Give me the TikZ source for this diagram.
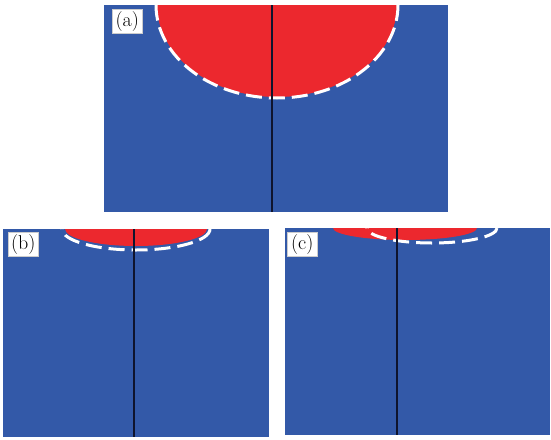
\documentclass[tikz,border=0pt]{standalone}
\usepackage{fontspec}
\definecolor{panelblue}{RGB}{51,89,168}
\definecolor{hotred}{RGB}{236,40,46}
\definecolor{divcol}{RGB}{15,20,45}
\begin{document}
\begin{tikzpicture}[x=1pt,y=-1pt,
  panel/.style={fill=panelblue},
  melt/.style={fill=hotred},
  bound/.style={draw=white,line width=3pt,dash pattern=on 16pt off 7pt},
  divline/.style={draw=divcol,line width=1.2pt},
  lbl/.style={draw=gray!40,fill=white,inner sep=0pt,minimum width=30pt,minimum height=24pt,font=\fontsize{20}{20}\selectfont,anchor=north west}]
\useasboundingbox (0,0) rectangle (551,439);
% ---------- panel (a)
\fill[panel] (104,5) rectangle (448,212);
\begin{scope}
  \clip (104,5) rectangle (448,212);
  \fill[melt] (277,5) ellipse [x radius=120, y radius=92];
\end{scope}
\begin{scope}
  \clip (104,3) rectangle (448,212);
  \draw[bound] (277,5) ellipse [x radius=121, y radius=93];
\end{scope}
\coordinate (at) at (272,5);
\coordinate (ab) at (272,212);
\draw[divline] (at) -- (ab);
\node[lbl] (la) at (112,9) {(a)};
% ---------- panel (b)
\fill[panel] (3,229) rectangle (269,437);
\begin{scope}
  \clip (3,229) rectangle (269,437);
  \fill[melt] (136,229) ellipse [x radius=71, y radius=17];
  \draw[bound] (136,229) ellipse [x radius=74, y radius=21];
\end{scope}
\coordinate (bt) at (134,229);
\coordinate (bb) at (134,437);
\draw[divline] (bt) -- (bb);
\node[lbl] (lb) at (8,232) {(b)};
% ---------- panel (c)
\fill[panel] (285,228) rectangle (550,435);
\begin{scope}
  \clip (285,228) rectangle (550,435);
  \fill[melt] (405,228) ellipse [x radius=72, y radius=12];
  \draw[bound] (432,228) ellipse [x radius=65, y radius=15];
\end{scope}
\coordinate (ct) at (397,228);
\coordinate (cb) at (397,435);
\draw[divline] (ct) -- (cb);
\node[lbl] (lc) at (287,232) {(c)};
\end{tikzpicture}
\end{document}
